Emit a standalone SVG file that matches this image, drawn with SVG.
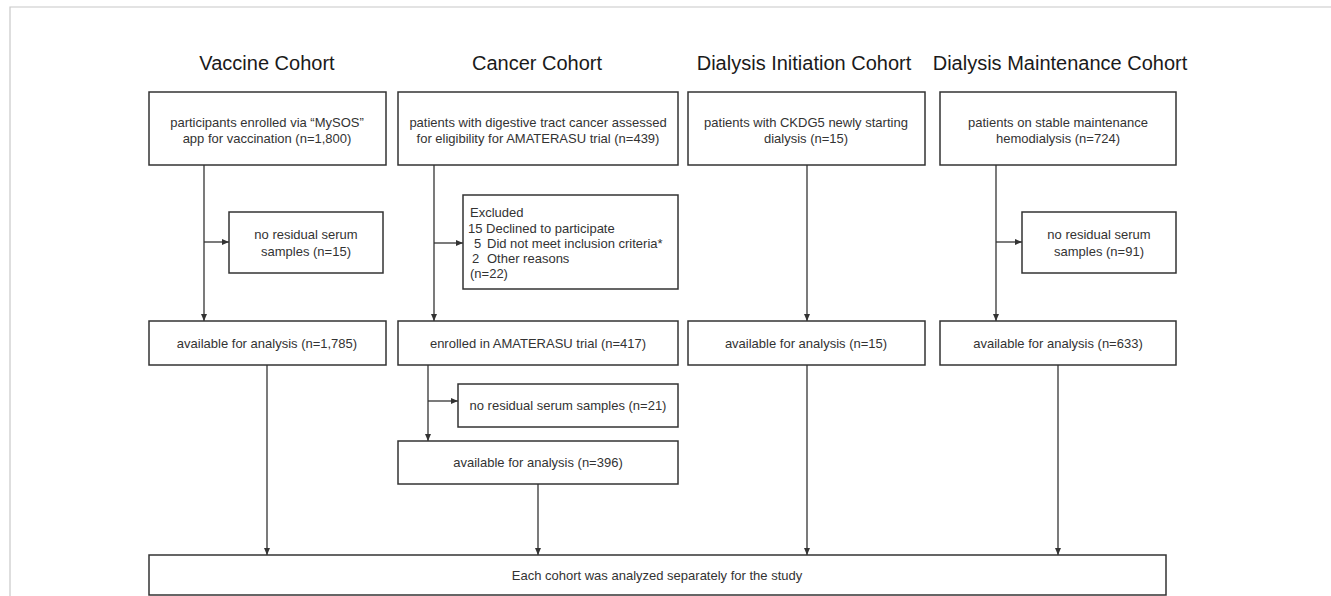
<svg xmlns="http://www.w3.org/2000/svg" width="1331" height="596" viewBox="0 0 1331 596">
<style>
  .frame { stroke: #c8c8c8; stroke-width: 1.2; fill: none; }
  .box { fill: #ffffff; stroke: #333333; stroke-width: 1.5; }
  .title { font-family: "Liberation Sans", Arial, sans-serif; font-size: 20px; fill: #1a1a1a; text-anchor: middle; }
  .t { font-family: "Liberation Sans", Arial, sans-serif; font-size: 13px; fill: #333333; text-anchor: middle; dominant-baseline: central; }
  .tl { font-family: "Liberation Sans", Arial, sans-serif; font-size: 13px; fill: #333333; text-anchor: start; dominant-baseline: central; }
  .conn { stroke: #333333; stroke-width: 1.3; fill: none; }
  .arr { marker-end: url(#ah); }
</style>
<defs>
  <marker id="ah" markerUnits="userSpaceOnUse" markerWidth="8" markerHeight="8" viewBox="0 0 8 8" refX="7" refY="4" orient="auto">
    <path d="M0,1 L7,4 L0,7 Z" fill="#333333"/>
  </marker>
</defs>
<rect width="1331" height="596" fill="#ffffff"/>
<path class="frame" d="M10,596 L10,7 L1331,7"/>

<g id="titles">
  <text class="title" x="267" y="70">Vaccine Cohort</text>
  <text class="title" x="537" y="70">Cancer Cohort</text>
  <text class="title" x="804" y="70">Dialysis Initiation Cohort</text>
  <text class="title" x="1060" y="70">Dialysis Maintenance Cohort</text>
</g>

<g id="connectors">
  <line class="conn arr" x1="204" y1="165" x2="204" y2="321"/>
  <line class="conn arr" x1="204" y1="242" x2="229" y2="242"/>
  <line class="conn arr" x1="267" y1="365" x2="267" y2="555"/>
  <line class="conn arr" x1="434" y1="165" x2="434" y2="321"/>
  <line class="conn arr" x1="434" y1="243" x2="463" y2="243"/>
  <line class="conn arr" x1="428" y1="365" x2="428" y2="441"/>
  <line class="conn arr" x1="428" y1="401" x2="458" y2="401"/>
  <line class="conn arr" x1="538" y1="484" x2="538" y2="555"/>
  <line class="conn arr" x1="807" y1="165" x2="807" y2="321"/>
  <line class="conn arr" x1="807" y1="365" x2="807" y2="555"/>
  <line class="conn arr" x1="996" y1="165" x2="996" y2="321"/>
  <line class="conn arr" x1="996" y1="242" x2="1022" y2="242"/>
  <line class="conn arr" x1="1058" y1="365" x2="1058" y2="555"/>
</g>

<g id="vaccine-top">
  <rect class="box" x="149" y="92" width="237" height="73"/>
  <text class="t" x="267" y="122">participants enrolled via “MySOS”</text>
  <text class="t" x="267" y="138">app for vaccination (n=1,800)</text>
</g>
<g id="vaccine-excl">
  <rect class="box" x="229" y="212" width="154" height="61"/>
  <text class="t" x="306" y="234">no residual serum</text>
  <text class="t" x="306" y="251">samples (n=15)</text>
</g>
<g id="vaccine-avail">
  <rect class="box" x="149" y="321" width="237" height="44"/>
  <text class="t" x="267" y="343">available for analysis (n=1,785)</text>
</g>

<g id="cancer-top">
  <rect class="box" x="398" y="92" width="280" height="73"/>
  <text class="t" x="538" y="122">patients with digestive tract cancer assessed</text>
  <text class="t" x="538" y="138">for eligibility for AMATERASU trial (n=439)</text>
</g>
<g id="cancer-excl">
  <rect class="box" x="463" y="195" width="215" height="94"/>
  <text class="tl" x="470" y="212">Excluded</text>
  <text class="tl" x="468" y="228">15 Declined to participate</text>
  <text class="tl" y="243"><tspan x="474">5</tspan><tspan x="487">Did not meet inclusion criteria*</tspan></text>
  <text class="tl" y="258"><tspan x="472">2</tspan><tspan x="487">Other reasons</tspan></text>
  <text class="tl" x="470" y="273">(n=22)</text>
</g>
<g id="cancer-enrolled">
  <rect class="box" x="398" y="321" width="280" height="44"/>
  <text class="t" x="538" y="343">enrolled in AMATERASU trial (n=417)</text>
</g>
<g id="cancer-excl2">
  <rect class="box" x="458" y="384" width="220" height="43"/>
  <text class="t" x="568" y="405.5">no residual serum samples (n=21)</text>
</g>
<g id="cancer-avail">
  <rect class="box" x="398" y="441" width="280" height="43"/>
  <text class="t" x="538" y="462">available for analysis (n=396)</text>
</g>

<g id="init-top">
  <rect class="box" x="688" y="92" width="237" height="73"/>
  <text class="t" x="806" y="122">patients with CKDG5 newly starting</text>
  <text class="t" x="806" y="138">dialysis (n=15)</text>
</g>
<g id="init-avail">
  <rect class="box" x="688" y="321" width="237" height="44"/>
  <text class="t" x="806" y="343">available for analysis (n=15)</text>
</g>

<g id="maint-top">
  <rect class="box" x="940" y="92" width="236" height="73"/>
  <text class="t" x="1058" y="122">patients on stable maintenance</text>
  <text class="t" x="1058" y="138">hemodialysis (n=724)</text>
</g>
<g id="maint-excl">
  <rect class="box" x="1022" y="212" width="154" height="61"/>
  <text class="t" x="1099" y="234">no residual serum</text>
  <text class="t" x="1099" y="251">samples (n=91)</text>
</g>
<g id="maint-avail">
  <rect class="box" x="940" y="321" width="236" height="44"/>
  <text class="t" x="1058" y="343">available for analysis (n=633)</text>
</g>

<g id="final">
  <rect class="box" x="149" y="555" width="1017" height="40"/>
  <text class="t" x="657" y="575">Each cohort was analyzed separately for the study</text>
</g>
</svg>
